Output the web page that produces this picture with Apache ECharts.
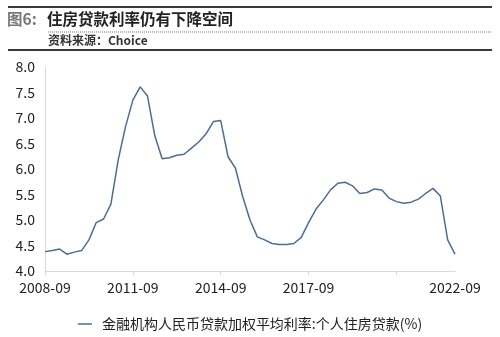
<!DOCTYPE html>
<html>
<head>
<meta charset="utf-8">
<script src="https://cdn.jsdelivr.net/npm/echarts@6/dist/echarts.min.js"></script>
<style>
html,body{margin:0;padding:0;background:#fff;}
#chart{width:500px;height:337px;}
</style>
</head>
<body>
<div id="chart"></div>
<script>
var categories = [
 "2008-09","2008-12",
 "2009-03","2009-06","2009-09","2009-12",
 "2010-03","2010-06","2010-09","2010-12",
 "2011-03","2011-06","2011-09","2011-12",
 "2012-03","2012-06","2012-09","2012-12",
 "2013-03","2013-06","2013-09","2013-12",
 "2014-03","2014-06","2014-09","2014-12",
 "2015-03","2015-06","2015-09","2015-12",
 "2016-03","2016-06","2016-09","2016-12",
 "2017-03","2017-06","2017-09","2017-12",
 "2018-03","2018-06","2018-09","2018-12",
 "2019-03","2019-06","2019-09","2019-12",
 "2020-03","2020-06","2020-09","2020-12",
 "2021-03","2021-06","2021-09","2021-12",
 "2022-03","2022-06","2022-09"
];
var mortgageRate = [
 4.38,4.40,
 4.43,4.33,4.37,4.40,
 4.61,4.95,5.02,5.31,
 6.18,6.83,7.35,7.61,
 7.43,6.65,6.20,6.22,
 6.27,6.29,6.41,6.53,
 6.69,6.93,6.95,6.24,
 6.02,5.46,5.00,4.67,
 4.61,4.54,4.52,4.52,
 4.54,4.66,4.95,5.21,
 5.39,5.59,5.72,5.74,
 5.67,5.52,5.54,5.61,
 5.59,5.43,5.36,5.33,
 5.35,5.41,5.52,5.62,
 5.47,4.61,4.33
];
var shownLabels = ["2008-09","2011-09","2014-09","2017-09","2022-09"];
var seriesName = "金融机构人民币贷款加权平均利率:个人住房贷款(%)";
var titleLabel = "图6:";
var titleText = "住房贷款利率仍有下降空间";
var sourceText = "资料来源：Choice";

var FONT = "'Noto Sans CJK SC','Noto Sans',sans-serif";
var chart = echarts.init(document.getElementById('chart'), null, {renderer:'canvas'});
chart.setOption({
  animation:false,
  textStyle:{fontFamily:FONT},
  grid:{left:45,right:45,top:67,bottom:66},
  xAxis:{
    type:'category',
    data:categories,
    boundaryGap:false,
    axisLine:{lineStyle:{color:'#d9d9d9',width:1}},
    axisTick:{show:true,interval:11,length:4,lineStyle:{color:'#d9d9d9'}},
    axisLabel:{
      interval:function(i,v){return shownLabels.indexOf(v)>=0;},
      color:'#222',fontSize:14,margin:10,fontFamily:FONT
    },
    splitLine:{show:false}
  },
  yAxis:{
    type:'value',min:4,max:8,interval:0.5,
    axisLine:{show:true,lineStyle:{color:'#d9d9d9',width:1}},
    axisTick:{show:false},
    axisLabel:{color:'#222',fontSize:14,margin:10,fontFamily:FONT,
      formatter:function(v){return v.toFixed(1);}},
    splitLine:{show:false}
  },
  legend:{
    left:'center',top:312,
    itemWidth:14,itemHeight:1.5,itemGap:10,
    icon:'rect',
    textStyle:{color:'#222',fontSize:14,fontFamily:FONT,padding:[0,0,0,5]},
    data:[seriesName]
  },
  series:[{
    name:seriesName,type:'line',data:mortgageRate,
    symbol:'none',
    lineStyle:{color:'#4d6d94',width:1.5},
    itemStyle:{color:'#4d6d94'}
  }],
  graphic:[
    {type:'line',shape:{x1:8,y1:7,x2:492,y2:7},style:{stroke:'#3a3a3a',lineWidth:2}},
    {type:'line',shape:{x1:48,y1:32,x2:492,y2:32},style:{stroke:'#777',lineWidth:1,lineDash:[1,1]}},
    {type:'line',shape:{x1:8,y1:50,x2:492,y2:50},style:{stroke:'#3a3a3a',lineWidth:2}},
    {type:'text',left:7,top:11,style:{text:titleLabel,fill:'#777',font:'bold 15.5px '+FONT}},
    {type:'text',left:47,top:11,style:{text:titleText,fill:'#222',font:'bold 15.5px '+FONT}},
    {type:'text',left:48,top:34,style:{text:sourceText,fill:'#333',font:'bold 12px '+FONT}}
  ]
});
</script>
</body>
</html>
